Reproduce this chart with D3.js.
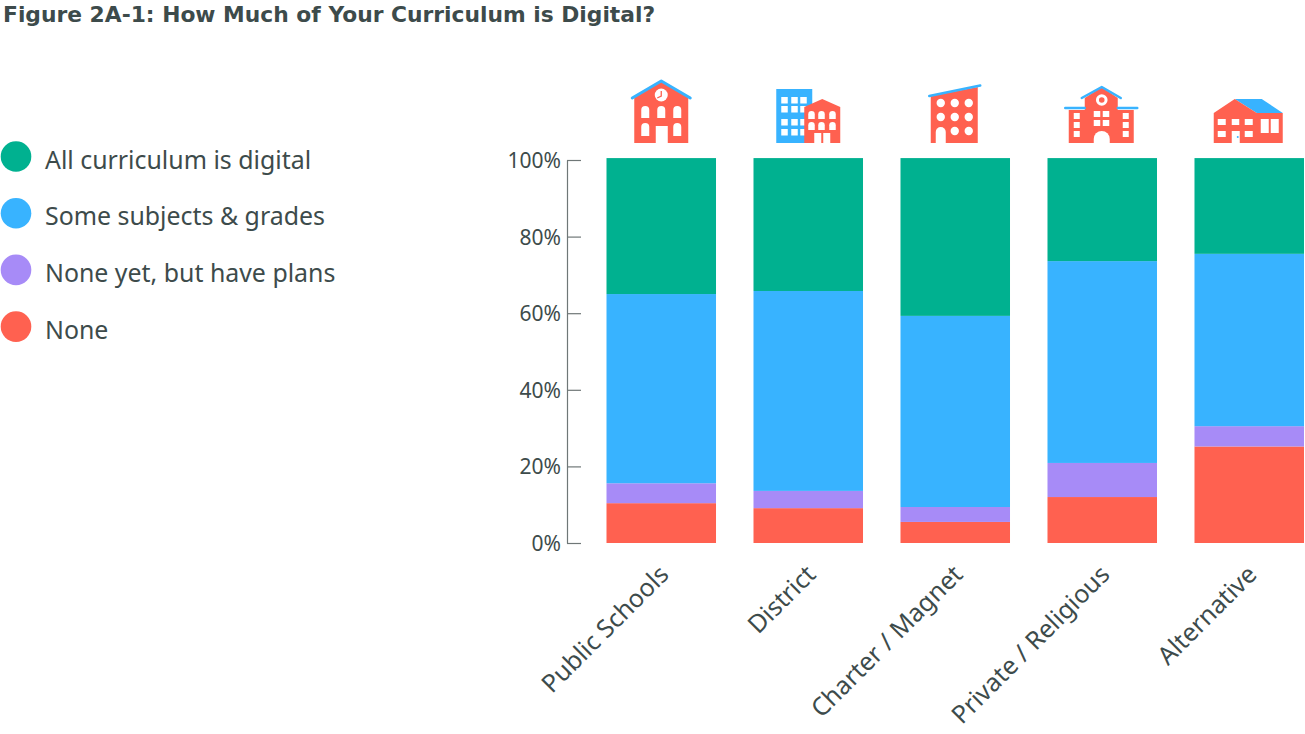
<!DOCTYPE html>
<html>
<head>
<meta charset="utf-8">
<script src="https://d3js.org/d3.v7.min.js"></script>
<style>
html, body { margin: 0; padding: 0; background: #fff; }
svg { display: block; }
text { font-family: "Noto Sans", sans-serif; fill: #3d4b4b; }
</style>
</head>
<body>
<script>
var categories = ["Public Schools", "District", "Charter / Magnet", "Private / Religious", "Alternative"];
var seriesNames = ["None", "None yet, but have plans", "Some subjects & grades", "All curriculum is digital"];
var none = [10.4, 9.1, 5.5, 12, 25.2];
var plans = [5.2, 4.5, 3.9, 8.9, 5.3];
var some = [49.4, 52.2, 49.9, 52.7, 45];
var all = [35.5, 34.7, 41.2, 26.9, 25];
var seriesColors = ["#ff6150", "#a78bf7", "#38b3ff", "#00b190"];
var yTicks = [0, 20, 40, 60, 80, 100];

var coral = seriesColors[0], blue = seriesColors[2];

var svg = d3.select("body").append("svg").attr("width", 1305).attr("height", 734);

var x = d3.scaleBand().domain(categories).range([606.5, 1304]).paddingInner(0.255).paddingOuter(0);
var y = d3.scaleLinear().domain([0, 100]).range([543, 160]);

// title
svg.append("text").attr("x", 3).attr("y", 22)
	.style("font-family", "'DejaVu Sans', sans-serif")
	.style("font-size", "21.8px").style("font-weight", "bold")
	.text("Figure 2A-1: How Much of Your Curriculum is Digital?");

// stacked bars
var rows = categories.map(function(c, i) {
	return { cat: c, s0: none[i], s1: plans[i], s2: some[i], s3: all[i] };
});
var stacked = d3.stack().keys(["s0", "s1", "s2", "s3"])(rows);

svg.selectAll("g.layer").data(stacked).enter().append("g")
	.attr("class", "layer")
	.attr("fill", function(d, i) { return seriesColors[i]; })
	.selectAll("rect").data(function(d) { return d; }).enter().append("rect")
	.attr("x", function(d) { return x(d.data.cat); })
	.attr("width", x.bandwidth())
	.attr("y", function(d) { return y(d[1]); })
	.attr("height", function(d) { return y(d[0]) - y(d[1]); });

// y axis, ticks point inwards
var yAxis = svg.append("g").attr("transform", "translate(567,0)")
	.call(d3.axisLeft(y).tickValues(yTicks).tickSizeInner(-14).tickSizeOuter(0).tickPadding(6)
		.tickFormat(function(d) { return d + "%"; }));
yAxis.selectAll("path, line").attr("stroke", "#6f7777").attr("stroke-width", 1.2);
yAxis.selectAll("text").style("font-size", "21px").attr("dy", "0.36em");

// x labels
var xAxis = svg.append("g").attr("transform", "translate(0,543)")
	.call(d3.axisBottom(x).tickSize(0));
xAxis.select(".domain").remove();
xAxis.selectAll("text")
	.style("font-size", "25px")
	.attr("text-anchor", "end")
	.attr("dy", 0).attr("y", 0)
	.attr("transform", "translate(9,33) rotate(-45)");

// legend
var legendOrder = [3, 2, 1, 0];
var legend = svg.selectAll("g.legend").data(legendOrder).enter().append("g")
	.attr("class", "legend")
	.attr("transform", function(d, i) { return "translate(0," + (156.5 + i * 56.7) + ")"; });
legend.append("circle").attr("cx", 16).attr("cy", 0).attr("r", 15.3)
	.attr("fill", function(d) { return seriesColors[d]; });
legend.append("text").attr("x", 45).attr("y", 12).style("font-size", "24.9px")
	.text(function(d) { return seriesNames[d]; });

// school icons above each bar, origin = bar centre on the icon baseline
function poly(g, pts, fill) {
	g.append("polygon").attr("points", pts).attr("fill", fill);
}
function boxes(g, xs, ys, w, h, fill) {
	xs.forEach(function(a) {
		ys.forEach(function(b) {
			g.append("rect").attr("x", a).attr("y", b).attr("width", w).attr("height", h).attr("fill", fill);
		});
	});
}
function arches(g, xs, ys, w, h) {
	xs.forEach(function(a) {
		ys.forEach(function(b) {
			var r = w / 2;
			g.append("path").attr("fill", "#fff")
				.attr("d", "M" + a + "," + (b + h) + "V" + (b + r) + "A" + r + "," + r + " 0 0 1 " + (a + w) + "," + (b + r) + "V" + (b + h) + "Z");
		});
	});
}
function roof(g, pts, w) {
	g.append("polyline").attr("points", pts).attr("fill", "none").attr("stroke", blue)
		.attr("stroke-width", w).attr("stroke-linecap", "round").attr("stroke-linejoin", "round");
}

var iconDraw = [
	function(g) {
		poly(g, "-27,0 -27,-47 0,-62 27,-47 27,0", coral);
		roof(g, "-29,-45 0,-62 29,-45", 3);
		g.append("circle").attr("cy", -48).attr("r", 6.5).attr("fill", "#fff");
		g.append("polyline").attr("points", "0,-52 0,-47 -4,-45").attr("fill", "none").attr("stroke", coral).attr("stroke-width", 1.3);
		arches(g, [-20, -4, 12], [-37], 8, 12);
		arches(g, [-20, 12], [-20], 8, 13);
		boxes(g, [-5.5], [-17], 12, 17, "#fff");
	},
	function(g) {
		g.append("rect").attr("x", -32).attr("y", -54).attr("width", 36).attr("height", 54).attr("fill", blue);
		boxes(g, [-27, -17, -8], [-46, -37, -24, -14], 6.5, 6.5, "#fff");
		poly(g, "-4,0 -4,-36 14,-44 32,-36 32,0", coral);
		arches(g, [0, 10, 21], [-32, -21], 6.5, 8);
		boxes(g, [6, 15], [-10], 7, 10, "#fff");
	},
	function(g) {
		poly(g, "-24.5,0 -24.5,-47 22.5,-56 22.5,0", coral);
		roof(g, "-26,-47 25,-57.5", 2.5);
		[[-14.5, -40], [-0.5, -40], [13.5, -40], [-14.5, -26], [-0.5, -26], [13.5, -26], [-0.5, -12], [13.5, -12]].forEach(function(c) {
			g.append("circle").attr("cx", c[0]).attr("cy", c[1]).attr("r", 4.2).attr("fill", "#fff");
		});
		arches(g, [-19.5], [-16], 10, 16);
	},
	function(g) {
		poly(g, "-33.5,0 -33.5,-33 -17.5,-33 -17.5,-45 -0.5,-56 15.5,-45 15.5,-33 31.5,-33 31.5,0", coral);
		roof(g, "-20.5,-45 -0.5,-56 18.5,-45", 2.5);
		roof(g, "-37,-35 -17.5,-35", 2.5);
		roof(g, "15.5,-35 35,-35", 2.5);
		g.append("circle").attr("cx", -0.5).attr("cy", -43).attr("r", 5.8).attr("fill", "#fff");
		g.append("circle").attr("cx", -0.5).attr("cy", -43).attr("r", 2.8).attr("fill", coral);
		boxes(g, [-28.5, 20.5], [-30, -21, -12], 6, 6, "#fff");
		boxes(g, [-8.5, 0.5], [-32, -23], 6.5, 6, "#fff");
		arches(g, [-8.5], [-12], 16, 12);
	},
	function(g) {
		poly(g, "-14.5,-44 12.5,-44 33.5,-30 7.5,-30", blue);
		poly(g, "-35.5,0 -35.5,-30 -14.5,-44 7.5,-30 33.5,-30 33.5,0", coral);
		boxes(g, [-31.5, -4.5], [-24, -12], 8, 6, "#fff");
		boxes(g, [-17.5], [-24], 7.5, 6, "#fff");
		boxes(g, [-17.5], [-12], 8, 12, "#fff");
		g.append("circle").attr("cx", -11.5).attr("cy", -6).attr("r", 1).attr("fill", blue);
		boxes(g, [11.5, 21.5], [-24], 8, 14, "#fff");
	}
];

categories.forEach(function(c, i) {
	var g = svg.append("g").attr("transform", "translate(" + (x(c) + x.bandwidth() / 2) + ",143)");
	iconDraw[i](g);
});
</script>
</body>
</html>
